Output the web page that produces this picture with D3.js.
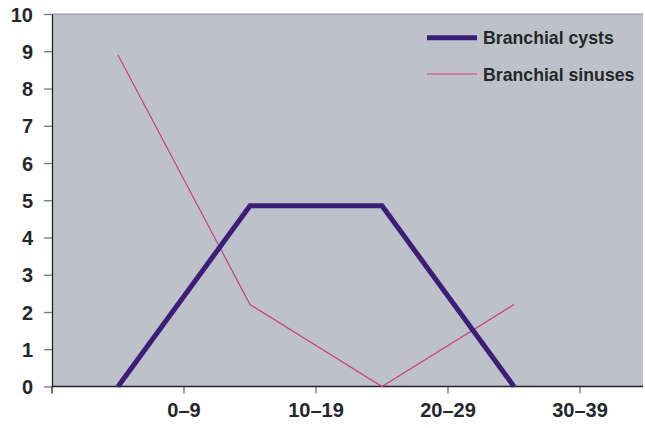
<!DOCTYPE html>
<html>
<head>
<meta charset="utf-8">
<script src="https://cdn.jsdelivr.net/npm/d3@7"></script>
<style>
  body { margin: 0; background: #fff; }
  svg text { font-family: "Liberation Sans", Arial, sans-serif; font-weight: bold; fill: #24272a; }
</style>
</head>
<body>
<div class="container"></div>
<script>
var categories = ["0–9", "10–19", "20–29", "30–39"];
var cysts = [0, 4.85, 4.85, 0];
var sinuses = [8.9, 2.2, 0, 2.2];
var yTicks = [0, 1, 2, 3, 4, 5, 6, 7, 8, 9, 10];

var w = 645, h = 428;
var plotLeft = 52, plotRight = 643, plotTop = 14, plotBottom = 386.5;

var svg = d3.select(".container")
    .append("svg")
    .attr("width", w)
    .attr("height", h);

// category bands; the points sit in the middle, the labels fall on the band edges
var x = d3.scaleBand()
    .domain(categories)
    .range([plotLeft, plotLeft + 4 * 132])
    .padding(0);
var bw = x.bandwidth();

var y = d3.scaleLinear()
    .domain([0, 10])
    .range([plotBottom, plotTop]);

svg.append("rect")
    .attr("x", plotLeft)
    .attr("y", plotTop)
    .attr("width", plotRight - plotLeft)
    .attr("height", plotBottom - plotTop)
    .attr("fill", "#bec1c9");

// top border
svg.append("line")
    .attr("x1", plotLeft).attr("x2", plotRight)
    .attr("y1", plotTop).attr("y2", plotTop)
    .attr("stroke", "#8d9096").attr("stroke-width", 1);

// y axis
var yAxis = svg.append("g")
    .attr("transform", "translate(" + plotLeft + ",0)")
    .call(d3.axisLeft(y).tickValues(yTicks).tickSize(8).tickPadding(11).tickSizeOuter(0));
yAxis.select(".domain").attr("stroke", "#222").attr("stroke-width", 1.3);
yAxis.selectAll(".tick line").attr("stroke", "#777").attr("stroke-width", 1.3);
yAxis.selectAll(".tick text").attr("font-size", "20px").attr("dy", "0.36em");

// x axis: ticks at band edges
var edges = categories.map(function(c) { return x(c); }).concat([x(categories[3]) + bw]);
svg.selectAll(".xtick")
    .data(edges)
    .enter()
    .append("line")
    .attr("x1", function(d) { return d; })
    .attr("x2", function(d) { return d; })
    .attr("y1", plotBottom)
    .attr("y2", plotBottom + 7)
    .attr("stroke", function(d, i) { return i === 0 ? "#222" : "#777"; })
    .attr("stroke-width", 1.3);

svg.append("line")
    .attr("x1", plotLeft).attr("x2", plotRight)
    .attr("y1", plotBottom).attr("y2", plotBottom)
    .attr("stroke", "#222").attr("stroke-width", 1.3);

svg.selectAll(".xlabel")
    .data(categories)
    .enter()
    .append("text")
    .text(function(d) { return d; })
    .attr("x", function(d) { return x(d) + bw; })
    .attr("y", 417)
    .attr("text-anchor", "middle")
    .attr("font-size", "20px");

var line = d3.line()
    .x(function(d, i) { return x(categories[i]) + bw / 2; })
    .y(function(d) { return y(d); });

svg.append("path")
    .datum(sinuses)
    .attr("d", line)
    .attr("fill", "none")
    .attr("stroke", "#c8407c")
    .attr("stroke-width", 1.2);

svg.append("path")
    .datum(cysts)
    .attr("d", line)
    .attr("fill", "none")
    .attr("stroke", "#3a1e78")
    .attr("stroke-width", 5)
    .attr("stroke-linejoin", "miter");

// legend
var legend = [
    { name: "Branchial cysts", color: "#3a1e78", width: 5, y: 37.7 },
    { name: "Branchial sinuses", color: "#c8407c", width: 1.2, y: 74 }
];
var lg = svg.selectAll(".legend")
    .data(legend)
    .enter()
    .append("g");
lg.append("line")
    .attr("x1", 427).attr("x2", 477)
    .attr("y1", function(d) { return d.y; })
    .attr("y2", function(d) { return d.y; })
    .attr("stroke", function(d) { return d.color; })
    .attr("stroke-width", function(d) { return d.width; });
lg.append("text")
    .text(function(d) { return d.name; })
    .attr("x", 483)
    .attr("y", function(d) { return d.y + 6.5; })
    .attr("font-size", "17.7px");
</script>
</body>
</html>
